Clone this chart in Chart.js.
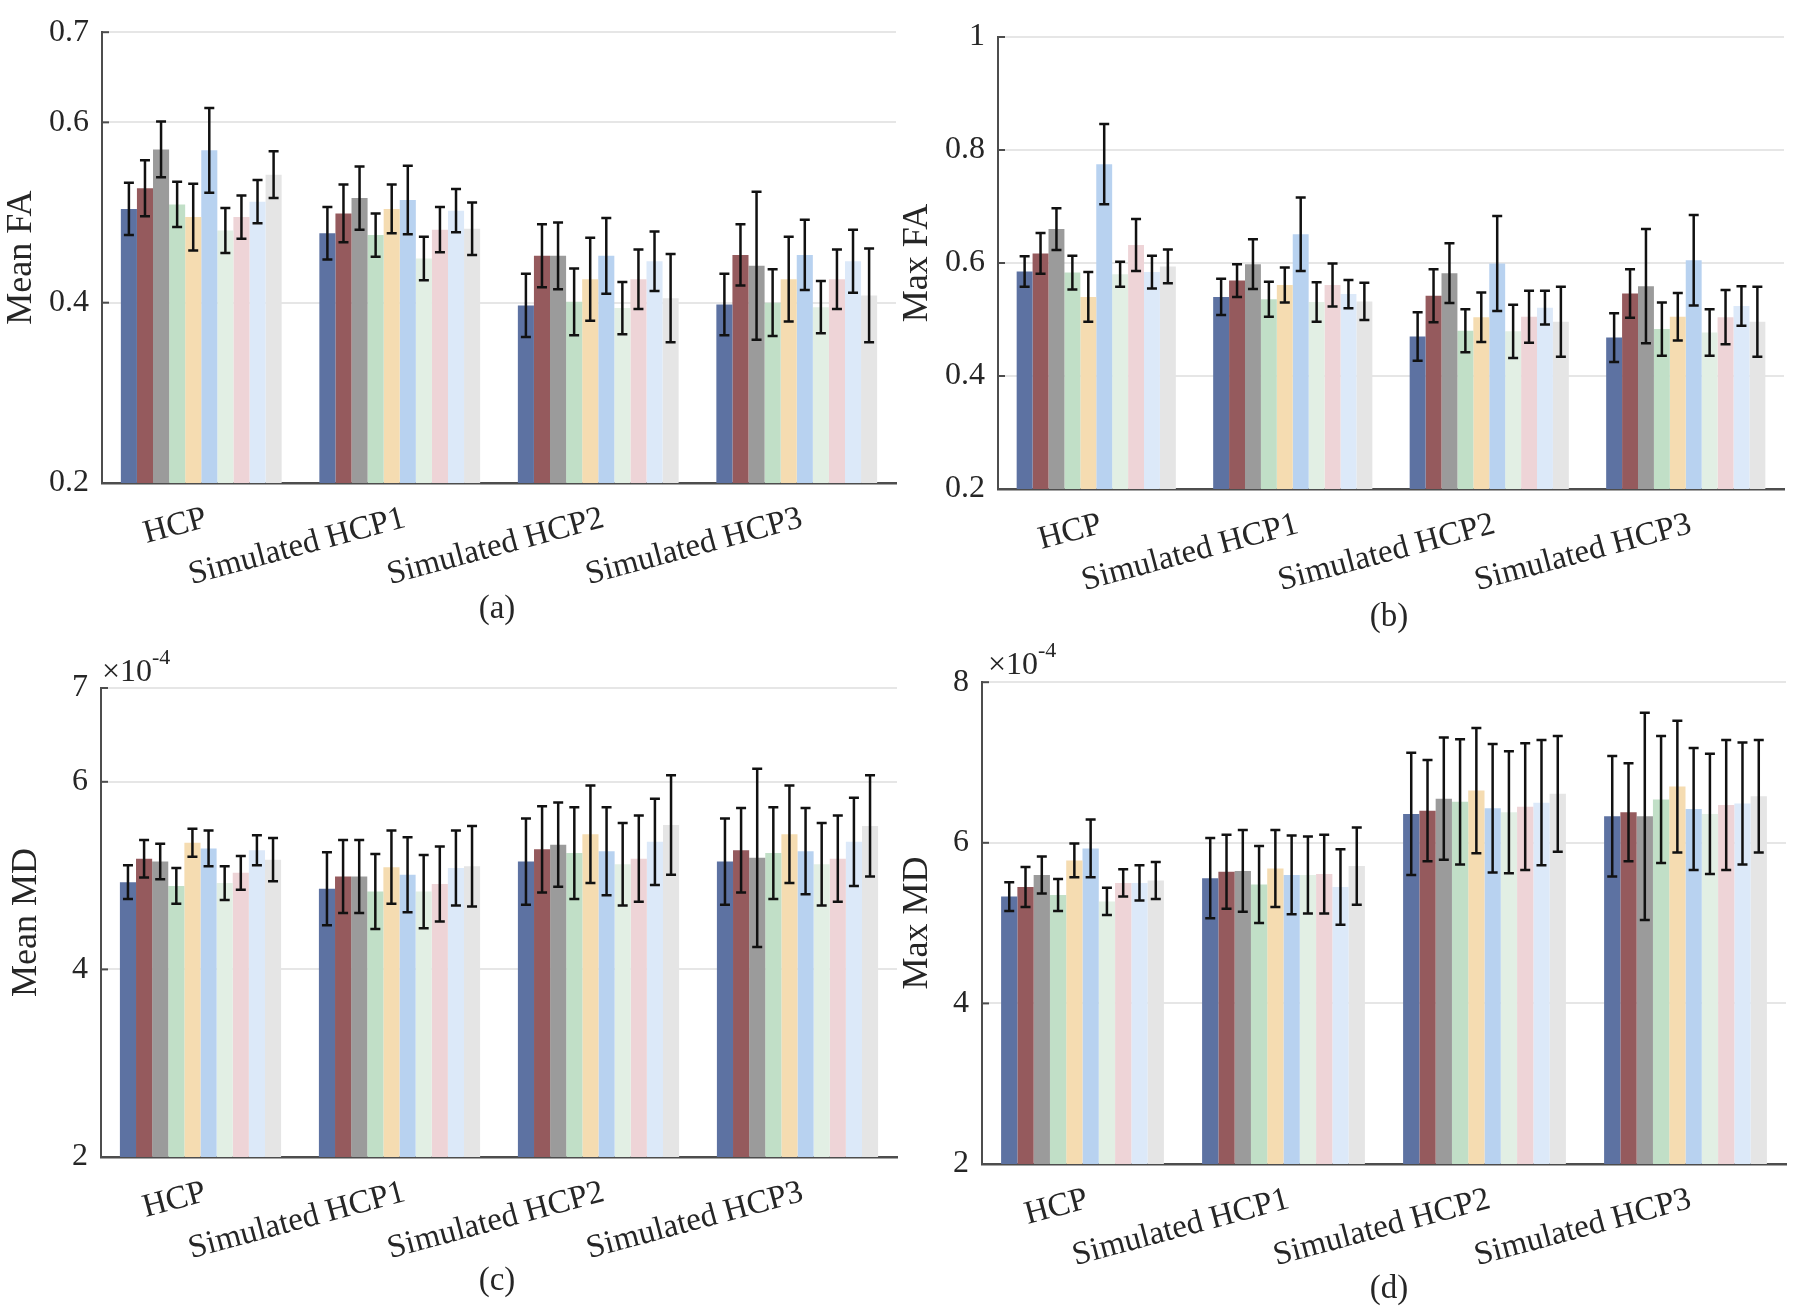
<!DOCTYPE html>
<html>
<head>
<meta charset="utf-8">
<script src="https://cdn.jsdelivr.net/npm/chart.js@4.4.0/dist/chart.umd.min.js"></script>
<style>
body { margin:0; background:#fff; width:1800px; height:1315px; position:relative; overflow:hidden; font-family:'Liberation Serif', serif; color:#262626; }
.panel { position:absolute; }
.cap { position:absolute; font-size:33px; line-height:33px; transform:translateX(-50%); }
.exp { position:absolute; font-size:32px; line-height:32px; white-space:nowrap; }
.exp sup { font-size:22px; position:relative; top:-5px; }
</style>
</head>
<body>
<div class="panel" style="left:0;top:0"><canvas id="chartA" width="900" height="640"></canvas></div>
<div class="panel" style="left:900px;top:0"><canvas id="chartB" width="900" height="640"></canvas></div>
<div class="panel" style="left:0;top:650px"><canvas id="chartC" width="900" height="665"></canvas></div>
<div class="panel" style="left:900px;top:650px"><canvas id="chartD" width="900" height="665"></canvas></div>

<div class="cap" style="left:497px;top:591px">(a)</div>
<div class="cap" style="left:1389px;top:599px">(b)</div>
<div class="cap" style="left:497px;top:1263px">(c)</div>
<div class="cap" style="left:1389px;top:1271px">(d)</div>

<div class="exp" style="left:102px;top:646px">&times;10<sup>-4</sup></div>
<div class="exp" style="left:988px;top:639px">&times;10<sup>-4</sup></div>

<script>
const groups = ['HCP', 'Simulated HCP1', 'Simulated HCP2', 'Simulated HCP3'];
const colors = ['#5d72a2', '#955a5d', '#9b9b9b', '#c1dfc7', '#f5dcb1', '#b8d2f0', '#e2efe4', '#eed4d7', '#dce9f9', '#e5e5e5'];

// one row per method (10 bars per group), one value per group
const meanFA = [
  [0.504, 0.477, 0.397, 0.398],
  [0.527, 0.499, 0.452, 0.453],
  [0.570, 0.516, 0.452, 0.441],
  [0.509, 0.475, 0.401, 0.400],
  [0.495, 0.504, 0.426, 0.426],
  [0.569, 0.514, 0.452, 0.453],
  [0.480, 0.449, 0.394, 0.395],
  [0.495, 0.481, 0.426, 0.426],
  [0.512, 0.502, 0.446, 0.446],
  [0.542, 0.482, 0.405, 0.408]
];
const meanFAErr = [
  [0.029, 0.029, 0.035, 0.034],
  [0.031, 0.032, 0.035, 0.034],
  [0.031, 0.035, 0.037, 0.082],
  [0.025, 0.024, 0.037, 0.037],
  [0.037, 0.027, 0.046, 0.047],
  [0.047, 0.038, 0.042, 0.039],
  [0.025, 0.024, 0.029, 0.029],
  [0.024, 0.025, 0.033, 0.033],
  [0.024, 0.024, 0.033, 0.035],
  [0.026, 0.029, 0.049, 0.052]
];

const maxFA = [
  [0.585, 0.540, 0.470, 0.468],
  [0.617, 0.569, 0.542, 0.546],
  [0.660, 0.598, 0.582, 0.559],
  [0.583, 0.536, 0.480, 0.483],
  [0.540, 0.561, 0.504, 0.505],
  [0.775, 0.651, 0.599, 0.605],
  [0.580, 0.531, 0.479, 0.477],
  [0.632, 0.561, 0.505, 0.504],
  [0.584, 0.545, 0.521, 0.524],
  [0.594, 0.532, 0.496, 0.496]
];
const maxFAErr = [
  [0.027, 0.032, 0.043, 0.043],
  [0.036, 0.029, 0.047, 0.043],
  [0.037, 0.044, 0.053, 0.101],
  [0.030, 0.031, 0.038, 0.047],
  [0.044, 0.031, 0.044, 0.042],
  [0.071, 0.065, 0.084, 0.080],
  [0.022, 0.035, 0.047, 0.041],
  [0.046, 0.038, 0.046, 0.048],
  [0.029, 0.025, 0.030, 0.035],
  [0.030, 0.033, 0.062, 0.062]
];

// MD values in units of 1e-4
const meanMD = [
  [4.93, 4.86, 5.15, 5.15],
  [5.18, 4.99, 5.28, 5.27],
  [5.15, 4.99, 5.33, 5.19],
  [4.89, 4.83, 5.24, 5.24],
  [5.35, 5.09, 5.44, 5.44],
  [5.29, 5.01, 5.26, 5.26],
  [4.92, 4.83, 5.12, 5.12],
  [5.03, 4.91, 5.18, 5.18],
  [5.27, 5.08, 5.36, 5.36],
  [5.17, 5.10, 5.54, 5.53]
];
const meanMDErr = [
  [0.18, 0.39, 0.46, 0.46],
  [0.20, 0.39, 0.46, 0.45],
  [0.19, 0.39, 0.45, 0.95],
  [0.19, 0.40, 0.49, 0.49],
  [0.15, 0.39, 0.52, 0.52],
  [0.19, 0.40, 0.47, 0.46],
  [0.18, 0.39, 0.44, 0.44],
  [0.18, 0.40, 0.46, 0.46],
  [0.16, 0.40, 0.46, 0.47],
  [0.23, 0.43, 0.53, 0.54]
];

const maxMD = [
  [5.33, 5.56, 6.36, 6.33],
  [5.45, 5.64, 6.40, 6.38],
  [5.60, 5.65, 6.55, 6.33],
  [5.35, 5.48, 6.51, 6.54],
  [5.78, 5.68, 6.65, 6.70],
  [5.93, 5.60, 6.43, 6.42],
  [5.27, 5.60, 6.38, 6.36],
  [5.50, 5.61, 6.45, 6.47],
  [5.50, 5.45, 6.50, 6.49],
  [5.53, 5.71, 6.61, 6.58]
];
const maxMDErr = [
  [0.18, 0.50, 0.76, 0.75],
  [0.25, 0.46, 0.63, 0.61],
  [0.23, 0.51, 0.76, 1.29],
  [0.20, 0.48, 0.78, 0.79],
  [0.21, 0.48, 0.78, 0.82],
  [0.36, 0.49, 0.80, 0.76],
  [0.17, 0.48, 0.76, 0.75],
  [0.17, 0.49, 0.79, 0.81],
  [0.22, 0.47, 0.78, 0.76],
  [0.23, 0.48, 0.72, 0.70]
];

const ticksA = [0.2, 0.4, 0.6, 0.7];
const ticksB = [0.2, 0.4, 0.6, 0.8, 1];
const ticksC = [2, 4, 6, 7];
const ticksD = [2, 4, 6, 8];

const FONT = 'Liberation Serif';
const TEXT = '#262626';
const AXIS = '#4d4d4d';

// error bars + matlab-style inward ticks on the y axis
const errorBars = {
  id: 'errorBars',
  afterDatasetsDraw(chart) {
    const ctx = chart.ctx;
    const y = chart.scales.y;
    ctx.save();
    ctx.strokeStyle = '#111';
    ctx.lineWidth = 2.5;
    chart.data.datasets.forEach((ds, i) => {
      chart.getDatasetMeta(i).data.forEach((bar, j) => {
        const top = y.getPixelForValue(ds.data[j] + ds.errors[j]);
        const bot = y.getPixelForValue(ds.data[j] - ds.errors[j]);
        const cap = 5;
        ctx.beginPath();
        ctx.moveTo(bar.x, top); ctx.lineTo(bar.x, bot);
        ctx.moveTo(bar.x - cap, top); ctx.lineTo(bar.x + cap, top);
        ctx.moveTo(bar.x - cap, bot); ctx.lineTo(bar.x + cap, bot);
        ctx.stroke();
      });
    });
    ctx.strokeStyle = AXIS;
    ctx.lineWidth = 2;
    y.ticks.forEach(t => {
      const py = y.getPixelForValue(t.value);
      ctx.beginPath();
      ctx.moveTo(chart.chartArea.left, py);
      ctx.lineTo(chart.chartArea.left + 7, py);
      ctx.stroke();
    });
    ctx.restore();
  }
};

function makeChart(id, values, errors, yTicks, title, box) {
  return new Chart(document.getElementById(id), {
    type: 'bar',
    data: {
      labels: groups,
      datasets: values.map((row, i) => ({
        label: 'Method ' + (i + 1),
        data: row,
        errors: errors[i],
        backgroundColor: colors[i],
        borderWidth: 0,
        barPercentage: 1.0,
        categoryPercentage: 0.81
      }))
    },
    options: {
      responsive: false,
      animation: false,
      layout: { padding: { top: box.top, right: box.right, left: 0, bottom: 0 } },
      plugins: { legend: { display: false }, tooltip: { enabled: false } },
      scales: {
        x: {
          grid: { display: false },
          border: { display: true, color: AXIS, width: 2.5 },
          ticks: {
            color: TEXT, font: { family: FONT, size: 33 },
            minRotation: 15, maxRotation: 15, autoSkip: false,
            padding: 8, labelOffset: 5
          },
          afterFit: s => { s.height = box.xh; }
        },
        y: {
          min: yTicks[0],
          max: yTicks[yTicks.length - 1],
          afterBuildTicks: s => { s.ticks = yTicks.map(v => ({ value: v })); },
          grid: {
            drawTicks: false, lineWidth: 2,
            color: c => (c.tick && c.tick.value === yTicks[0]) ? 'rgba(0,0,0,0)' : '#e6e6e6'
          },
          border: { display: true, color: AXIS, width: 2 },
          ticks: {
            color: TEXT, font: { family: FONT, size: 32 }, padding: 13,
            callback: v => String(v)
          },
          title: {
            display: true, text: title, color: TEXT,
            font: { family: FONT, size: 36, lineHeight: 1 },
            padding: { top: box.tp, bottom: 0 }
          },
          afterFit: s => { s.width = box.yw; }
        }
      }
    },
    plugins: [errorBars]
  });
}

makeChart('chartA', meanFA, meanFAErr, ticksA, 'Mean FA', { top: 21, right: 4, xh: 157, yw: 102, tp: 4 });
makeChart('chartB', maxFA, maxFAErr, ticksB, 'Max FA', { top: 37, right: 16, xh: 151, yw: 98, tp: 0 });
makeChart('chartC', meanMD, meanMDErr, ticksC, 'Mean MD', { top: 38, right: 3, xh: 158, yw: 101, tp: 9 });
makeChart('chartD', maxMD, maxMDErr, ticksD, 'Max MD', { top: 31, right: 14, xh: 151, yw: 82, tp: 0 });
</script>
</body>
</html>
